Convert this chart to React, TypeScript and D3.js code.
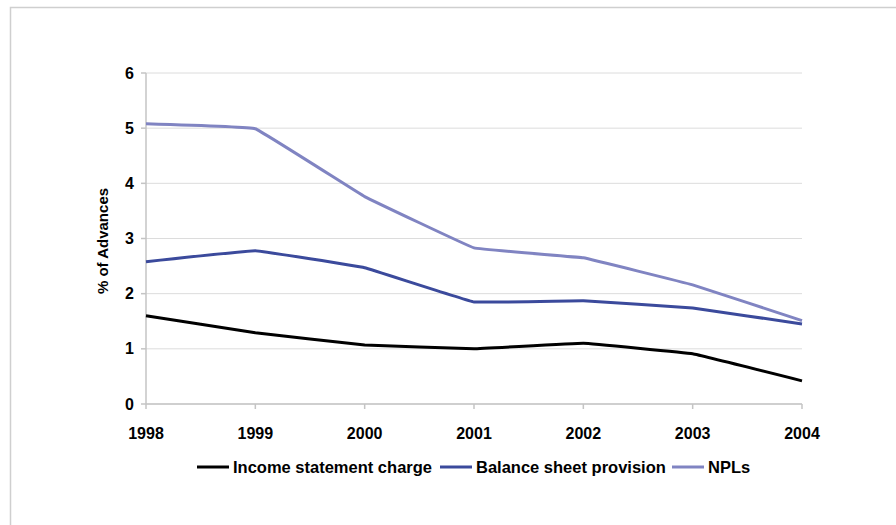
import React from "react";
import * as d3 from "d3";

const years = ["1998", "1999", "2000", "2001", "2002", "2003", "2004"];
const incomeCharge = [1.6, 1.29, 1.07, 1.0, 1.1, 0.91, 0.42];
const balanceProvision = [2.58, 2.78, 2.47, 1.85, 1.87, 1.74, 1.45];
const npls = [5.08, 4.99, 3.76, 2.83, 2.65, 2.16, 1.51];
const yTicks = [0, 1, 2, 3, 4, 5, 6];

const seriesList = [
  { name: "Income statement charge", values: incomeCharge, color: "#000000" },
  { name: "Balance sheet provision", values: balanceProvision, color: "#3b4a9c" },
  { name: "NPLs", values: npls, color: "#8084c2" },
];

const W = 896;
const H = 525;
const left = 146;
const right = 802;
const top = 73;
const bottom = 404;
const font = "Arial, 'Liberation Sans', Helvetica, sans-serif";

export default function App() {
  const x = d3.scalePoint<string>().domain(years).range([left, right]);
  const y = d3.scaleLinear().domain([0, 6]).range([bottom, top]);
  const line = d3
    .line<number>()
    .x((_, i) => x(years[i]) as number)
    .y((d) => y(d))
    .curve(d3.curveCardinal.tension(0.85));

  const legendItems = [
    { x: 197, ...seriesList[0] },
    { x: 440, ...seriesList[1] },
    { x: 672, ...seriesList[2] },
  ];

  return (
    <svg
      width={W}
      height={H}
      style={{ position: "absolute", left: 0, top: 0, display: "block" }}
      fontFamily={font}
    >
      <rect x={0} y={0} width={W} height={H} fill="#fff" />
      <rect x={10.5} y={7.5} width={W + 10} height={H + 10} fill="none" stroke="#cfcfcf" strokeWidth={1.5} />

      {/* gridlines */}
      {yTicks.map((t) => (
        <line key={`g${t}`} x1={left} x2={right} y1={y(t)} y2={y(t)} stroke="#dcdcdc" strokeWidth={1} />
      ))}

      {/* axes */}
      <line x1={left} x2={left} y1={top} y2={bottom} stroke="#c4c4c4" strokeWidth={1.5} />
      <line x1={left} x2={right} y1={bottom} y2={bottom} stroke="#c4c4c4" strokeWidth={1.5} />
      {yTicks.map((t) => (
        <g key={`yt${t}`}>
          <line x1={left - 5} x2={left} y1={y(t)} y2={y(t)} stroke="#c4c4c4" strokeWidth={1.5} />
          <text x={134} y={y(t)} dy="0.35em" textAnchor="end" fontSize={16} fontWeight="bold" fill="#000">
            {t}
          </text>
        </g>
      ))}
      {years.map((yr) => (
        <g key={`xt${yr}`}>
          <line x1={x(yr)} x2={x(yr)} y1={bottom} y2={bottom + 5} stroke="#c4c4c4" strokeWidth={1.5} />
          <text x={x(yr)} y={433} dy="0.35em" textAnchor="middle" fontSize={16} fontWeight="bold" fill="#000">
            {yr}
          </text>
        </g>
      ))}

      <text
        transform={`translate(108, 241) rotate(-90)`}
        textAnchor="middle"
        fontSize={15}
        fontWeight="bold"
        fill="#000"
      >
        % of Advances
      </text>

      {/* series */}
      {seriesList.map((s) => (
        <path key={s.name} d={line(s.values) ?? ""} fill="none" stroke={s.color} strokeWidth={3} strokeLinejoin="round" />
      ))}

      {/* legend */}
      {legendItems.map((l) => (
        <g key={`lg${l.name}`}>
          <line x1={l.x} x2={l.x + 32} y1={467} y2={467} stroke={l.color} strokeWidth={3} />
          <text x={l.x + 36} y={467} dy="0.35em" fontSize={16.5} fontWeight="bold" fill="#000">
            {l.name}
          </text>
        </g>
      ))}
    </svg>
  );
}
